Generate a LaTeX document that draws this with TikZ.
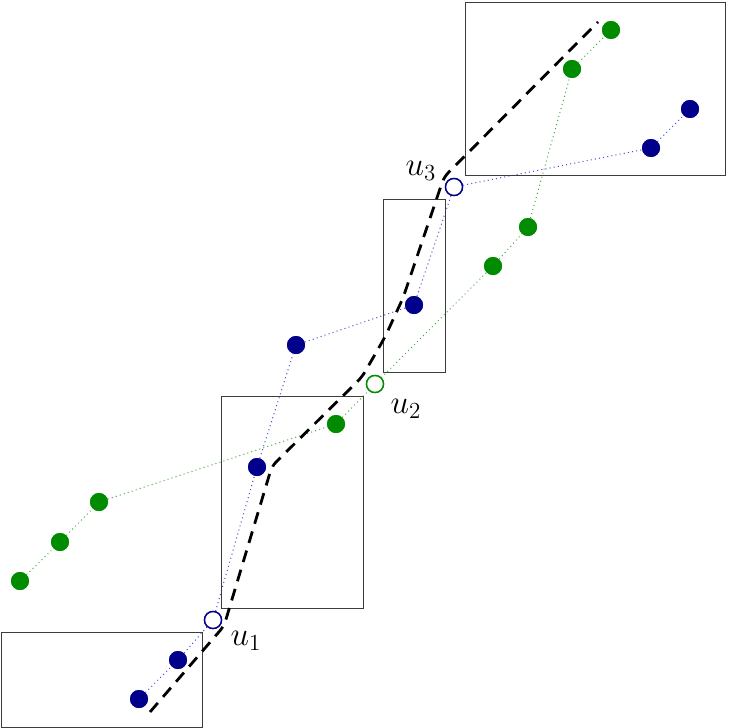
\documentclass[tikz,border=0pt]{standalone}
\usepackage{graphicx}
\usetikzlibrary{calc}
\definecolor{dotblue}{RGB}{0,0,139}
\definecolor{dotgreen}{RGB}{0,139,0}
\definecolor{lineblue}{RGB}{70,70,210}
\definecolor{linegreen}{RGB}{60,170,60}
\definecolor{boxgray}{RGB}{60,60,60}
\tikzset{
  bdot/.style={circle,fill=dotblue,draw=none,minimum size=18pt,inner sep=0pt},
  gdot/.style={circle,fill=dotgreen,draw=none,minimum size=18pt,inner sep=0pt},
  bopen/.style={circle,fill=white,draw=dotblue,line width=1.4pt,minimum size=17pt,inner sep=0pt},
  gopen/.style={circle,fill=white,draw=dotgreen,line width=1.4pt,minimum size=17pt,inner sep=0pt},
  bline/.style={draw=lineblue,line width=1pt,dash pattern=on 1pt off 3.2pt},
  gline/.style={draw=linegreen,line width=1pt,dash pattern=on 1pt off 3.2pt},
  boxline/.style={draw=boxgray,line width=1pt},
  route/.style={draw=black,line width=2.8pt,dash pattern=on 12pt off 8pt,rounded corners=6pt},
  ulabel/.style={inner sep=0pt}
}
\newcommand{\biglabel}[1]{\scalebox{1.6}{\huge$#1$}}
\begin{document}
\begin{tikzpicture}[x=1pt,y=-1pt]
\useasboundingbox (0,0) rectangle (728,728);
% blue chain
\node[bdot] (b1) at (139,699) {};
\node[bdot] (b2) at (178,660) {};
\node[bopen] (u1) at (213,620) {};
\node[bdot] (b4) at (257,467) {};
\node[bdot] (b5) at (296,345) {};
\node[bdot] (b6) at (414,305) {};
\node[bopen] (u3) at (454,187) {};
\node[bdot] (b8) at (651,148) {};
\node[bdot] (b9) at (690,109) {};
% green chain
\node[gdot] (g1) at (20,581) {};
\node[gdot] (g2) at (60,542) {};
\node[gdot] (g3) at (99,502) {};
\node[gdot] (g4) at (336,424) {};
\node[gopen] (u2) at (375,384) {};
\node[gdot] (g6) at (493,266) {};
\node[gdot] (g7) at (528,227) {};
\node[gdot] (g8) at (572,69) {};
\node[gdot] (g9) at (611,30) {};
% dotted connectors
\draw[bline] (b1) -- (b2) -- (u1) -- (b4) -- (b5) -- (b6) -- (u3) -- (b8) -- (b9);
\draw[gline] (g1) -- (g2) -- (g3) -- (g4) -- (u2) -- (g6) -- (g7) -- (g8) -- (g9);
% boxes
\draw[boxline] (1,632) rectangle (202,727);
\draw[boxline] (221,396) rectangle (363,608);
\draw[boxline] (383,199) rectangle (445,372);
\draw[boxline] (465,2) rectangle (725,175);
% dashed route
\coordinate (r0) at (150,712);
\coordinate (r1) at (224,626);
\coordinate (r2) at (272,466);
\coordinate (r3) at (362,377);
\coordinate (r4) at (385,337);
\coordinate (r5) at (403,298);
\coordinate (r6) at (444,177);
\coordinate (r7) at (598,22);
\draw[route] (r0) -- (r1) -- (r2) -- (r3) -- (r4) -- (r5) -- (r6) -- (r7);
% redraw dots on top
\foreach \n in {b1,b2,b4,b5,b6,b8,b9}{\fill[dotblue] (\n.center) circle (9pt);}
\foreach \n in {g1,g2,g3,g4,g6,g7,g8,g9}{\fill[dotgreen] (\n.center) circle (9pt);}
\filldraw[fill=white,draw=dotblue,line width=1.4pt] (u1.center) circle (8.5pt);
\filldraw[fill=white,draw=dotblue,line width=1.4pt] (u3.center) circle (8.5pt);
\filldraw[fill=white,draw=dotgreen,line width=1.4pt] (u2.center) circle (8.5pt);
% labels
\node[ulabel] (l1) at (246,641) {\biglabel{u_1}};
\node[ulabel] (l2) at (406,409) {\biglabel{u_2}};
\node[ulabel] (l3) at (421,171) {\biglabel{u_3}};
\end{tikzpicture}
\end{document}
